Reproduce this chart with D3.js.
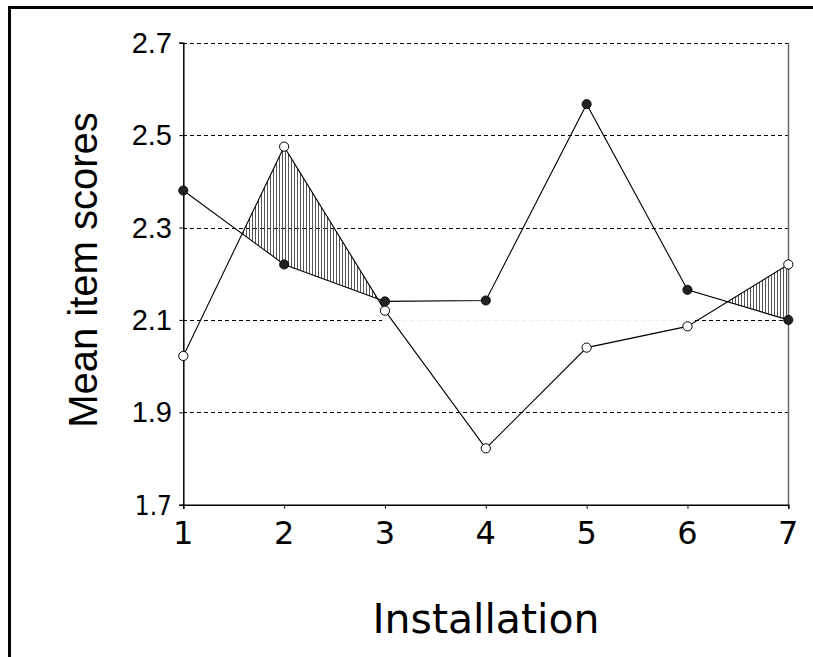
<!DOCTYPE html>
<html>
<head>
<meta charset="utf-8">
<script src="https://cdn.jsdelivr.net/npm/d3@7"></script>
<style>
  html, body { margin: 0; padding: 0; background: #fff; }
  svg { display: block; }
</style>
</head>
<body>
<svg id="chart" width="813" height="657"></svg>
<script>
// Installation numbers on the x axis
const installations = [1, 2, 3, 4, 5, 6, 7];
// Mean item scores, series drawn with filled markers
const filledScores = [2.38, 2.22, 2.14, 2.142, 2.567, 2.165, 2.10];
// Mean item scores, series drawn with open markers
const openScores = [2.022, 2.475, 2.12, 1.822, 2.04, 2.086, 2.22];
// Value axis ticks
const yTicks = [1.7, 1.9, 2.1, 2.3, 2.5, 2.7];
const yTickLabels = ["1.7", "1.9", "2.1", "2.3", "2.5", "2.7"];

const svg = d3.select("#chart");

const x = d3.scaleLinear().domain([1, 7]).range([183.3, 788.3]);
const y = d3.scaleLinear().domain([1.7, 2.7]).range([504.7, 42.7]);
// snap horizontal rules to the pixel grid
const ys = v => Math.round(y(v)) + 0.5;

// Outer frame (top and left edges)
svg.append("line").attr("x1", 8).attr("x2", 813).attr("y1", 7.5).attr("y2", 7.5)
  .attr("stroke", "#000").attr("stroke-width", 3);
svg.append("line").attr("x1", 9.5).attr("x2", 9.5).attr("y1", 6).attr("y2", 657)
  .attr("stroke", "#000").attr("stroke-width", 3);

// Vertical hatch pattern for the shaded regions
const defs = svg.append("defs");
const pat = defs.append("pattern")
  .attr("id", "vhatch")
  .attr("patternUnits", "userSpaceOnUse")
  .attr("width", 3).attr("height", 10);
pat.append("line").attr("x1", 0.5).attr("x2", 0.5).attr("y1", 0).attr("y2", 10)
  .attr("stroke", "#555").attr("stroke-width", 1);

// Clip region: everything above the filled-marker line
const pts = installations.map((d, i) => ({ inst: d, a: filledScores[i], b: openScores[i] }));
const clipLine = d3.line().x(d => x(d.inst)).y(d => y(d.a));
const clipPoly = clipLine(pts) + `L${x(7)},${y(2.7)}L${x(1)},${y(2.7)}Z`;
defs.append("clipPath").attr("id", "aboveFilled")
  .append("path").attr("d", clipPoly);

// Gridlines
const grid = svg.append("g").attr("shape-rendering", "crispEdges");
yTicks.filter(v => v > 1.7 && v !== 2.1).forEach(v => {
  grid.append("line")
    .attr("x1", x(1)).attr("x2", x(7))
    .attr("y1", ys(v)).attr("y2", ys(v))
    .attr("stroke", "#000").attr("stroke-width", 1)
    .attr("stroke-dasharray", "4,3");
});
// The 2.1 line fades out across the middle installations
[[1, 2.97, "#000"], [2.97, 6.07, "#eeeeee"], [6.07, 7, "#000"]].forEach(([a, b, c]) => {
  grid.append("line")
    .attr("x1", x(a)).attr("x2", x(b))
    .attr("y1", ys(2.1)).attr("y2", ys(2.1))
    .attr("stroke", c).attr("stroke-width", 1)
    .attr("stroke-dasharray", "4,3");
});

// Shaded area where the open-marker series exceeds the filled-marker series
const area = d3.area()
  .x(d => x(d.inst))
  .y0(d => y(d.a))
  .y1(d => y(d.b));
svg.append("path")
  .attr("d", area(pts))
  .attr("fill", "url(#vhatch)")
  .attr("clip-path", "url(#aboveFilled)");

// Right border of the plot
svg.append("line").attr("x1", 788.5).attr("x2", 788.5).attr("y1", y(2.7)).attr("y2", y(1.7))
  .attr("stroke", "#666").attr("stroke-width", 1.5);

// Y axis
const yAxis = d3.axisLeft(y).tickValues(yTicks).tickSize(4).tickFormat(() => "");
const gy = svg.append("g").attr("transform", `translate(${x(1)},0)`).call(yAxis);
gy.select(".domain").attr("stroke", "#000").attr("stroke-width", 1.5);
gy.selectAll(".tick line").attr("stroke", "#000");

// Y tick labels
yTicks.forEach((v, i) => {
  const isBottom = v === 1.7;
  svg.append("text")
    .attr("x", 172)
    .attr("y", y(v) + 10)
    .attr("text-anchor", "end")
    .attr("font-family", isBottom ? "'DejaVu Sans Condensed', 'DejaVu Sans', sans-serif" : "'Liberation Sans', Arial, sans-serif")
    .attr("font-size", isBottom ? 26 : 29)
    .attr("fill", "#000")
    .text(yTickLabels[i]);
});

// X axis
const xAxis = d3.axisBottom(x).tickValues(installations).tickSize(4).tickFormat(() => "");
const gx = svg.append("g").attr("transform", `translate(0,${y(1.7)})`).call(xAxis);
gx.select(".domain").attr("stroke", "#000").attr("stroke-width", 1.5);
gx.selectAll(".tick line").attr("stroke", "#000");
installations.forEach(d => {
  svg.append("text")
    .attr("x", x(d))
    .attr("y", 544)
    .attr("text-anchor", "middle")
    .attr("font-family", "'DejaVu Sans', Verdana, sans-serif")
    .attr("font-size", 32)
    .attr("fill", "#000")
    .text(d);
});

// Series lines
const lineA = d3.line().x(d => x(d.inst)).y(d => y(d.a));
const lineB = d3.line().x(d => x(d.inst)).y(d => y(d.b));
svg.append("path").attr("d", lineB(pts)).attr("fill", "none")
  .attr("stroke", "#000").attr("stroke-width", 1.1);
svg.append("path").attr("d", lineA(pts)).attr("fill", "none")
  .attr("stroke", "#000").attr("stroke-width", 1.1);

// Markers
svg.append("g").selectAll("circle").data(pts).join("circle")
  .attr("cx", d => x(d.inst)).attr("cy", d => y(d.b)).attr("r", 4.6)
  .attr("fill", "#fff").attr("stroke", "#000").attr("stroke-width", 1);
svg.append("g").selectAll("circle").data(pts).join("circle")
  .attr("cx", d => x(d.inst)).attr("cy", d => y(d.a)).attr("r", 4.6)
  .attr("fill", "#222").attr("stroke", "#000").attr("stroke-width", 0.8);

// Axis titles
svg.append("text")
  .attr("x", 486).attr("y", 633)
  .attr("text-anchor", "middle")
  .attr("font-family", "'DejaVu Sans', Verdana, sans-serif")
  .attr("font-size", 41)
  .attr("fill", "#000")
  .text("Installation");
svg.append("text")
  .attr("transform", "translate(97,270) rotate(-90)")
  .attr("text-anchor", "middle")
  .attr("font-family", "'Liberation Sans', Arial, sans-serif")
  .attr("font-size", 40)
  .attr("fill", "#000")
  .text("Mean item scores");
</script>
</body>
</html>
